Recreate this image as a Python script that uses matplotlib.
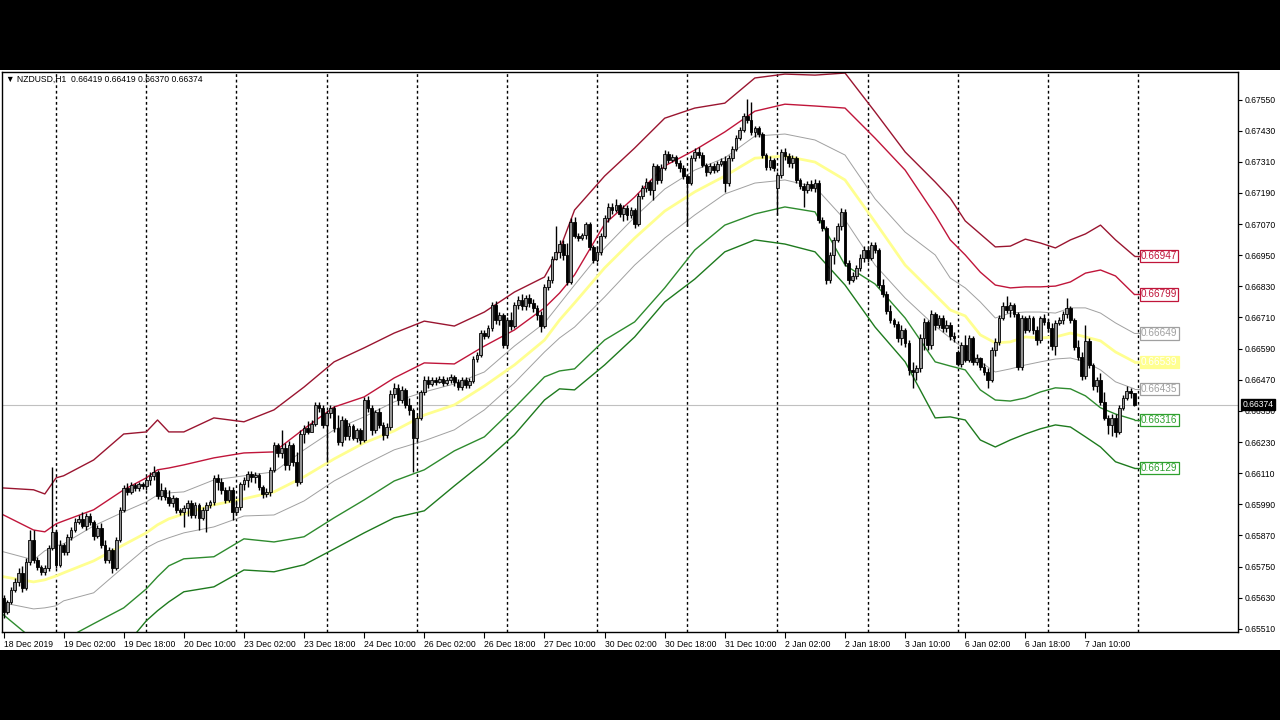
import numpy as np
import matplotlib.pyplot as plt
import matplotlib.transforms as mtransforms
from matplotlib.patches import Rectangle

plt.rcParams['font.family'] = ['Liberation Sans', 'DejaVu Sans']

# NZDUSD H1 candles, prices in points (1e-5), one row per trading day
opens = [
    65629, 65575, 65614, 65660, 65691, 65726, 65668, 65768, 65853, 65776, 65749, 65730, 65745, 65822,
    65884, 65757, 65834, 65807, 65865, 65891, 65922, 65934, 65907, 65945, 65922, 65868, 65899, 65834, 65776, 65814, 65745, 65853, 65969, 66053, 66038, 66065, 66053, 66069,
    66061, 66084, 66100, 66115, 66023, 66046, 66019, 65995, 66015, 65969, 65961, 65976, 65995, 65949, 65988, 65938, 65969, 65988, 65999, 66092, 66077, 66046, 66007, 66046,
    65961, 65980, 66069, 66084, 66108, 66096, 66104, 66058, 66030, 66038, 66123, 66219, 66188, 66208, 66142, 66219, 66154, 66077, 66262, 66285, 66269, 66300, 66373, 66362,
    66296, 66342, 66362, 66285, 66231, 66315, 66254, 66292, 66246, 66277, 66238, 66392, 66362, 66277, 66346, 66296, 66258, 66288, 66415, 66438, 66392, 66431, 66373, 66354,
    66246, 66323, 66423, 66469, 66454, 66469, 66462, 66473, 66458, 66469, 66481, 66462, 66442, 66469, 66450, 66465, 66550, 66565, 66650, 66639, 66670, 66758, 66700, 66720,
    66604, 66700, 66677, 66758, 66777, 66754, 66785, 66766, 66747, 66720, 66677, 66828, 66855, 66936, 66963, 66993, 66951, 66847, 67078, 67024, 67016, 67028, 67070, 66982,
    66932, 66963, 67024, 67093, 67136, 67124, 67143, 67109, 67132, 67105, 67124, 67070, 67178, 67209, 67232, 67201, 67294, 67240, 67286, 67340, 67317, 67328, 67305, 67286,
    67255, 67228, 67324, 67348, 67336, 67297, 67270, 67294, 67278, 67301, 67313, 67228, 67324, 67359, 67401, 67432, 67486, 67471, 67425, 67440, 67417, 67336, 67290, 67317,
    67209, 67259, 67348, 67332, 67305, 67324, 67240, 67217, 67201, 67224, 67209, 67228, 67086, 67055, 66855, 66951, 67009, 67063, 67117, 66920, 66855, 66870, 66901, 66940,
    66970, 66940, 66990, 66970, 66835, 66801, 66735, 66700, 66685, 66631, 66662, 66612, 66508, 66500, 66515, 66631, 66693, 66604, 66724, 66681, 66708, 66670, 66681, 66639,
    66577, 66531, 66604, 66546, 66631, 66539, 66554, 66519, 66500, 66469, 66585, 66616, 66708, 66754, 66739, 66758, 66724, 66519, 66708, 66662, 66708, 66662, 66623, 66708,
    66693, 66670, 66600, 66689, 66700, 66724, 66747, 66700, 66596, 66558, 66485, 66620, 66527, 66446, 66469, 66385, 66323, 66296, 66323, 66269, 66362, 66400, 66427, 66419,
]
closes = [
    65575, 65614, 65660, 65691, 65726, 65668, 65768, 65853, 65776, 65749, 65730, 65745, 65822, 65884,
    65757, 65834, 65807, 65865, 65891, 65922, 65934, 65907, 65945, 65922, 65868, 65899, 65834, 65776, 65814, 65745, 65853, 65969, 66053, 66038, 66065, 66053, 66069, 66061,
    66084, 66100, 66115, 66023, 66046, 66019, 65995, 66015, 65969, 65961, 65976, 65995, 65949, 65988, 65938, 65969, 65988, 65999, 66092, 66077, 66046, 66007, 66046, 65961,
    65980, 66069, 66084, 66108, 66096, 66104, 66058, 66030, 66038, 66123, 66219, 66188, 66208, 66142, 66219, 66154, 66077, 66262, 66285, 66269, 66300, 66373, 66362, 66296,
    66342, 66362, 66285, 66231, 66315, 66254, 66292, 66246, 66277, 66238, 66392, 66362, 66277, 66346, 66296, 66258, 66288, 66415, 66438, 66392, 66431, 66373, 66354, 66246,
    66323, 66423, 66469, 66454, 66469, 66462, 66473, 66458, 66469, 66481, 66462, 66442, 66469, 66450, 66465, 66550, 66565, 66650, 66639, 66670, 66758, 66700, 66720, 66604,
    66700, 66677, 66758, 66777, 66754, 66785, 66766, 66747, 66720, 66677, 66828, 66855, 66936, 66963, 66993, 66951, 66847, 67078, 67024, 67016, 67028, 67070, 66982, 66932,
    66963, 67024, 67093, 67136, 67124, 67143, 67109, 67132, 67105, 67124, 67070, 67178, 67209, 67232, 67201, 67294, 67240, 67286, 67340, 67317, 67328, 67305, 67286, 67255,
    67228, 67324, 67348, 67336, 67297, 67270, 67294, 67278, 67301, 67313, 67228, 67324, 67359, 67401, 67432, 67486, 67471, 67425, 67440, 67417, 67336, 67290, 67317, 67286,
    67259, 67348, 67332, 67305, 67324, 67240, 67217, 67201, 67224, 67209, 67228, 67086, 67055, 66855, 66951, 67009, 67063, 67117, 66920, 66855, 66870, 66901, 66940, 66970,
    66940, 66990, 66970, 66835, 66801, 66735, 66700, 66685, 66631, 66662, 66612, 66508, 66500, 66515, 66631, 66693, 66604, 66724, 66681, 66708, 66670, 66681, 66639, 66631,
    66531, 66604, 66546, 66631, 66539, 66554, 66519, 66500, 66469, 66585, 66616, 66708, 66754, 66739, 66758, 66724, 66519, 66708, 66662, 66708, 66662, 66623, 66708, 66693,
    66670, 66600, 66689, 66700, 66724, 66747, 66700, 66596, 66558, 66485, 66620, 66527, 66446, 66469, 66385, 66323, 66296, 66323, 66269, 66362, 66400, 66427, 66419, 66374,
]
highs = [
    65641, 65622, 65672, 65707, 65745, 65753, 65784, 65891, 65891, 65788, 65757, 65757, 65834, 66135,
    65891, 65853, 65842, 65876, 65903, 65938, 65949, 65961, 65957, 65957, 65930, 65911, 65918, 65853, 65826, 65822, 65865, 65980, 66065, 66073, 66077, 66073, 66077, 66077,
    66096, 66115, 66138, 66123, 66073, 66058, 66046, 66026, 66019, 65976, 65988, 66007, 66007, 65999, 65995, 65980, 65999, 66007, 66104, 66108, 66092, 66058, 66061, 66058,
    66007, 66077, 66096, 66119, 66119, 66115, 66111, 66065, 66053, 66135, 66231, 66227, 66277, 66227, 66235, 66227, 66192, 66277, 66296, 66311, 66315, 66385, 66385, 66373,
    66354, 66373, 66369, 66334, 66331, 66323, 66304, 66300, 66285, 66285, 66404, 66408, 66373, 66354, 66362, 66308, 66304, 66431, 66458, 66454, 66446, 66438, 66400, 66362,
    66335, 66431, 66485, 66485, 66481, 66481, 66485, 66485, 66481, 66492, 66488, 66473, 66481, 66481, 66477, 66562, 66577, 66662, 66662, 66681, 66770, 66774, 66731, 66727,
    66712, 66731, 66770, 66793, 66801, 66797, 66801, 66781, 66758, 66735, 66839, 66870, 66947, 67063, 67009, 67009, 66997, 67093, 67097, 67036, 67036, 67078, 67078, 66990,
    66986, 67036, 67105, 67151, 67151, 67167, 67151, 67143, 67143, 67136, 67132, 67190, 67220, 67247, 67240, 67305, 67301, 67301, 67355, 67351, 67340, 67336, 67317, 67297,
    67263, 67336, 67363, 67367, 67348, 67305, 67305, 67305, 67313, 67324, 67332, 67336, 67371, 67413, 67444, 67498, 67552, 67540, 67448, 67448, 67425, 67344, 67332, 67324,
    67270, 67359, 67363, 67344, 67336, 67332, 67247, 67228, 67236, 67240, 67244, 67240, 67097, 67063, 66963, 67020, 67074, 67132, 67128, 66932, 66886, 66913, 66955, 66986,
    66986, 67001, 67001, 66978, 66858, 66812, 66758, 66708, 66697, 66681, 66670, 66623, 66539, 66527, 66647, 66708, 66700, 66739, 66731, 66720, 66720, 66700, 66693, 66654,
    66585, 66616, 66643, 66643, 66639, 66570, 66558, 66535, 66515, 66596, 66631, 66720, 66770, 66793, 66770, 66766, 66731, 66720, 66716, 66720, 66716, 66677, 66716, 66724,
    66704, 66689, 66700, 66712, 66735, 66785, 66754, 66708, 66623, 66577, 66681, 66631, 66535, 66481, 66496, 66423, 66335, 66338, 66338, 66373, 66411, 66446, 66438, 66419,
]
lows = [
    65552, 65567, 65606, 65652, 65676, 65652, 65660, 65757, 65764, 65737, 65718, 65718, 65733, 65814,
    65745, 65749, 65795, 65795, 65853, 65884, 65915, 65899, 65891, 65911, 65853, 65861, 65822, 65764, 65764, 65726, 65737, 65845, 65961, 66026, 66030, 66042, 66042, 66050,
    66046, 66065, 66084, 66011, 66007, 66007, 65984, 65980, 65957, 65949, 65903, 65945, 65938, 65938, 65891, 65930, 65884, 65976, 65988, 66046, 66030, 65995, 65999, 65930,
    65949, 65969, 66046, 66058, 66077, 66073, 66046, 66015, 66019, 66023, 66115, 66173, 66169, 66123, 66123, 66138, 66061, 66069, 66227, 66262, 66277, 66292, 66346, 66285,
    66154, 66323, 66269, 66219, 66215, 66238, 66238, 66238, 66231, 66223, 66231, 66346, 66258, 66265, 66285, 66238, 66246, 66277, 66400, 66373, 66381, 66362, 66335, 66115,
    66231, 66315, 66411, 66438, 66446, 66450, 66458, 66446, 66450, 66458, 66446, 66431, 66431, 66438, 66438, 66458, 66539, 66558, 66627, 66631, 66658, 66685, 66681, 66592,
    66596, 66662, 66670, 66743, 66739, 66739, 66750, 66731, 66700, 66654, 66670, 66816, 66843, 66932, 66940, 66932, 66835, 66839, 67016, 67005, 67009, 67013, 66970, 66920,
    66924, 66951, 67016, 67078, 67109, 67117, 67097, 67082, 67086, 67093, 67055, 67063, 67167, 67194, 67182, 67163, 67224, 67228, 67278, 67305, 67309, 67294, 67270, 67244,
    67063, 67220, 67313, 67324, 67290, 67255, 67263, 67267, 67270, 67294, 67194, 67217, 67313, 67351, 67394, 67425, 67459, 67413, 67405, 67405, 67324, 67278, 67278, 67274,
    67105, 67247, 67317, 67290, 67286, 67228, 67205, 67136, 67190, 67197, 67194, 67074, 67043, 66839, 66843, 66916, 67001, 67047, 66909, 66839, 66847, 66858, 66889, 66924,
    66924, 66932, 66959, 66824, 66789, 66724, 66689, 66674, 66616, 66604, 66596, 66488, 66438, 66469, 66500, 66585, 66585, 66589, 66662, 66670, 66654, 66654, 66623, 66616,
    66523, 66519, 66539, 66539, 66527, 66527, 66508, 66488, 66438, 66462, 66562, 66604, 66700, 66727, 66712, 66712, 66508, 66508, 66650, 66654, 66647, 66604, 66612, 66681,
    66654, 66585, 66565, 66681, 66685, 66708, 66689, 66585, 66546, 66469, 66473, 66515, 66431, 66423, 66373, 66315, 66262, 66254, 66250, 66262, 66354, 66392, 66400, 66370,
]

# envelope bands, sampled at these bar numbers
band_bars = [0, 8, 11, 14, 16, 24, 32, 38, 41, 44, 48, 56, 64, 72, 80, 88, 96, 104, 112, 120,
             128, 136, 144, 148, 152, 160, 168, 176, 184, 192, 200, 208, 216, 224, 232, 240, 248, 252, 256, 260,
             264, 268, 272, 276, 280, 284, 288, 292, 296, 301]
red_outer = [66053, 66046, 66030, 66092, 66100, 66161, 66261, 66269, 66315, 66269, 66269, 66323, 66308, 66354, 66442, 66539, 66593, 66650, 66696, 66677,
             66731, 66808, 66866, 66970, 67124, 67255, 67363, 67478, 67517, 67536, 67633, 67648, 67644, 67652, 67502, 67348, 67232, 67170, 67082, 67032,
             66982, 66985, 67012, 66997, 66978, 67009, 67032, 67066, 67009, 66947]
red_inner = [65949, 65891, 65884, 65915, 65926, 65969, 66046, 66092, 66123, 66130, 66142, 66169, 66188, 66192, 66281, 66365, 66404, 66477, 66535, 66531,
             66600, 66662, 66747, 66804, 66874, 67070, 67174, 67294, 67355, 67425, 67505, 67532, 67525, 67517, 67401, 67278, 67105, 67009, 66951, 66885,
             66835, 66824, 66828, 66828, 66831, 66847, 66881, 66893, 66870, 66799]
gray_upper = [65807, 65776, 65811, 65830, 65838, 65907, 65961, 65999, 66026, 66034, 66038, 66084, 66100, 66115, 66200, 66277, 66327, 66385, 66423, 66454,
              66500, 66600, 66689, 66762, 66835, 66978, 67097, 67205, 67278, 67325, 67409, 67417, 67394, 67336, 67167, 67039, 66951, 66862, 66824, 66770,
              66708, 66727, 66731, 66731, 66727, 66747, 66747, 66727, 66689, 66649]
yellow_mid = [65711, 65691, 65699, 65714, 65726, 65772, 65834, 65880, 65911, 65934, 65953, 65988, 66011, 66038, 66096, 66165, 66227, 66273, 66334, 66373,
              66446, 66527, 66623, 66700, 66766, 66901, 67016, 67120, 67194, 67255, 67324, 67332, 67309, 67240, 67078, 66912, 66797, 66739, 66716, 66643,
              66612, 66616, 66635, 66631, 66635, 66650, 66635, 66620, 66577, 66539]
gray_lower = [65610, 65587, 65591, 65599, 65618, 65649, 65749, 65822, 65845, 65861, 65880, 65903, 65945, 65949, 66003, 66080, 66142, 66200, 66235, 66277,
              66354, 66458, 66577, 66631, 66673, 66789, 66912, 67016, 67105, 67186, 67228, 67240, 67213, 67086, 66912, 66785, 66677, 66631, 66585, 66539,
              66500, 66512, 66527, 66539, 66550, 66554, 66539, 66508, 66462, 66435]
green_inner = [65564, 65468, 65487, 65468, 65468, 65530, 65591, 65664, 65711, 65753, 65780, 65788, 65857, 65845, 65865, 65938, 66007, 66080, 66123, 66196,
               66250, 66362, 66481, 66504, 66512, 66623, 66693, 66824, 66970, 67066, 67109, 67136, 67117, 66912, 66839, 66708, 66539, 66523, 66508, 66431,
               66392, 66388, 66400, 66423, 66439, 66435, 66408, 66362, 66338, 66316]
green_outer = [65429, 65371, 65352, 65345, 65345, 65371, 65437, 65541, 65580, 65614, 65653, 65672, 65737, 65730, 65757, 65818, 65880, 65938, 65965, 66061,
               66154, 66258, 66392, 66435, 66431, 66527, 66635, 66770, 66858, 66963, 67009, 66993, 66963, 66835, 66673, 66539, 66323, 66327, 66315, 66238,
               66211, 66238, 66261, 66281, 66296, 66288, 66250, 66211, 66154, 66129]

time_bars = [0, 16, 32, 48, 64, 80, 96, 112, 128, 144, 160, 176, 192, 208, 224, 240, 256, 272, 288]
time_labels = ['18 Dec 2019', '19 Dec 02:00', '19 Dec 18:00', '20 Dec 10:00', '23 Dec 02:00', '23 Dec 18:00',
               '24 Dec 10:00', '26 Dec 02:00', '26 Dec 18:00', '27 Dec 10:00', '30 Dec 02:00', '30 Dec 18:00',
               '31 Dec 10:00', '2 Jan 02:00', '2 Jan 18:00', '3 Jan 10:00', '6 Jan 02:00', '6 Jan 18:00', '7 Jan 10:00']
day_separators = [14, 38, 62, 86, 110, 134, 158, 182, 206, 230, 254, 278, 302]
price_ticks = [0.65510, 0.65630, 0.65750, 0.65870, 0.65990, 0.66110, 0.66230, 0.66350, 0.66470,
               0.66590, 0.66710, 0.66830, 0.66950, 0.67070, 0.67190, 0.67310, 0.67430, 0.67550]
last_price = 0.66374

o = np.array(opens) / 1e5
c = np.array(closes) / 1e5
h = np.array(highs) / 1e5
l = np.array(lows) / 1e5
x = np.arange(len(c))

fig = plt.figure(figsize=(12.8, 7.2), dpi=100, facecolor='black')
fig.patches.append(Rectangle((0, 70 / 720), 1, 580 / 720, transform=fig.transFigure,
                             fc='white', ec='none', zorder=-10))
ax = fig.add_axes([2 / 1280, 88 / 720, 1236 / 1280, 560 / 720])
ax.set_facecolor('white')
ax.set_xlim(-0.4, 328.6)
ax.set_ylim(0.65498, 0.67656)

for s in day_separators:
    ax.axvline(s, color='black', lw=1, ls=(0, (2, 2)), zorder=1)
ax.axhline(last_price, color='#c0c0c0', lw=0.8, zorder=1)

bands = [
    (red_outer, '#9a1530', 1.0, 'white', '#c0153a', '#c0153a'),
    (red_inner, '#c0153a', 1.0, 'white', '#c0153a', '#c0153a'),
    (gray_upper, '#a0a0a0', 0.7, 'white', '#a0a0a0', '#a0a0a0'),
    (yellow_mid, '#ffff90', 2.0, '#ffff90', '#ffff90', 'white'),
    (gray_lower, '#a0a0a0', 0.7, 'white', '#a0a0a0', '#a0a0a0'),
    (green_inner, '#2e8b2e', 1.0, 'white', '#2ea02e', '#2ea02e'),
    (green_outer, '#1e7a1e', 1.0, 'white', '#2ea02e', '#2ea02e'),
]
for vals, col, lw, fc, ec, tc in bands:
    v = np.array(vals) / 1e5
    ax.plot(band_bars, v, color=col, lw=lw, zorder=2)
    ax.hlines(v[-1], band_bars[-1], band_bars[-1] + 1.6, color=col, lw=lw, zorder=2)
    ax.text(band_bars[-1] + 1.75, v[-1], f'{v[-1]:.5f}', fontsize=7.2, color=tc, va='center', ha='left',
            zorder=5, bbox=dict(boxstyle='square,pad=0.12', fc=fc, ec=ec, lw=0.9))

# candles
up = c >= o
ax.vlines(x, l, h, color='black', lw=1, zorder=3)
bottom = np.minimum(o, c)
height = np.maximum(np.abs(c - o), 0.000012)
ax.bar(x[up], height[up], bottom=bottom[up], width=0.72, color='#939393',
       edgecolor='black', lw=0.6, zorder=4)
ax.bar(x[~up], height[~up], bottom=bottom[~up], width=0.72, color='black',
       edgecolor='black', lw=0.6, zorder=4)

# axes
for sp in ax.spines.values():
    sp.set_color('black')
    sp.set_linewidth(1)
ax.yaxis.tick_right()
ax.set_yticks(price_ticks)
ax.set_yticklabels([f'{p:.5f}' for p in price_ticks])
ax.tick_params(axis='y', length=3, width=0.8, labelsize=6.2, pad=2)
ax.set_xticks(time_bars)
ax.set_xticklabels(time_labels, ha='left')
ax.tick_params(axis='x', length=4, width=0.8, labelsize=6.2, pad=1.5)

trans = mtransforms.blended_transform_factory(ax.transAxes, ax.transData)
ax.text(1.0035, last_price, f'{last_price:.5f}', transform=trans, fontsize=6.2, color='white',
        va='center', ha='left', clip_on=False, zorder=6,
        bbox=dict(boxstyle='square,pad=0.15', fc='black', ec='black'))

ax.text(0.0032, 0.9875, '\u25bc NZDUSD,H1  0.66419 0.66419 0.66370 0.66374', transform=ax.transAxes,
        fontsize=6.2, va='center', ha='left', zorder=6)

fig.savefig('out.png', dpi=100, facecolor='black')
